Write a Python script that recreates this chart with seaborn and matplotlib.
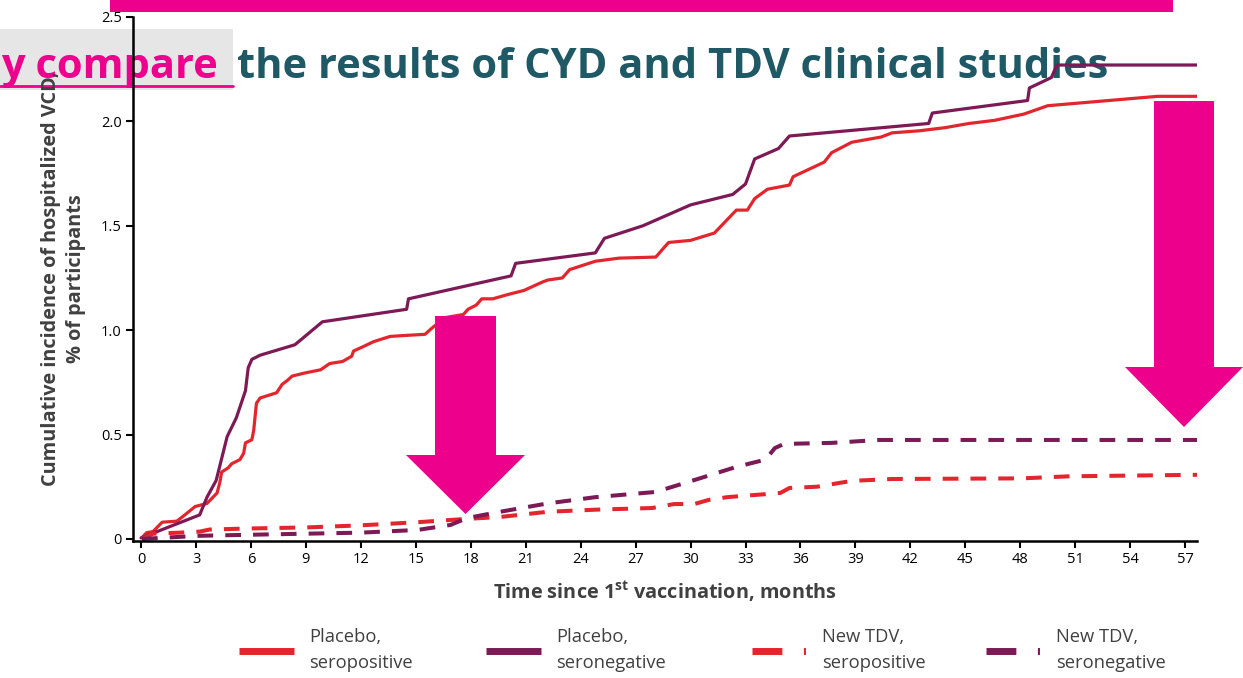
import numpy as np
import pandas as pd
import matplotlib
matplotlib.use("Agg")
import matplotlib.pyplot as plt
import seaborn as sns
from matplotlib.lines import Line2D
from matplotlib.patches import Polygon, Rectangle

# Placebo, seropositive (solid red)
pbo_pos_month = [0.05, 0.3, 0.65, 1.15, 1.95, 2.25, 2.95, 3.6, 4.15, 4.3, 4.4, 4.75, 4.95, 5.4, 5.6,
                 5.7, 6.05, 6.15, 6.3, 6.5, 7.4, 7.7, 8.0, 8.25, 8.95, 9.8, 10.3, 11.0, 11.5, 11.6,
                 12.1, 12.7, 13.6, 14.5, 15.5, 15.95, 16.6, 17.6, 17.85, 18.3, 18.6, 19.2, 20.0,
                 20.9, 21.9, 22.2, 23.0, 23.4, 24.8, 26.1, 28.1, 28.8, 30.0, 31.3, 32.5, 33.1,
                 33.5, 34.2, 35.4, 35.6, 37.3, 37.7, 38.8, 40.4, 41.0, 42.5, 43.9, 45.2, 46.6,
                 48.2, 49.5, 55.5, 57.7]
pbo_pos_value = [0.005, 0.03, 0.035, 0.08, 0.085, 0.105, 0.155, 0.17, 0.22, 0.27, 0.32, 0.34, 0.36,
                 0.38, 0.41, 0.46, 0.475, 0.52, 0.65, 0.675, 0.70, 0.74, 0.76, 0.78, 0.795, 0.81,
                 0.84, 0.85, 0.875, 0.90, 0.92, 0.945, 0.97, 0.975, 0.98, 1.015, 1.06, 1.075, 1.10,
                 1.12, 1.15, 1.15, 1.17, 1.19, 1.23, 1.24, 1.25, 1.29, 1.33, 1.345, 1.35, 1.42,
                 1.43, 1.465, 1.575, 1.575, 1.63, 1.675, 1.695, 1.735, 1.805, 1.85, 1.90, 1.925,
                 1.945, 1.955, 1.97, 1.99, 2.005, 2.035, 2.075, 2.12, 2.12]

# Placebo, seronegative (solid purple)
pbo_neg_month = [0.0, 3.2, 3.6, 4.1, 4.7, 5.2, 5.7, 5.85, 6.05, 6.5, 8.4, 9.9, 14.5, 14.6, 20.2,
                 20.45, 24.8, 25.3, 27.4, 30.0, 32.3, 33.0, 33.5, 34.8, 35.4, 43.0, 43.2, 48.4,
                 48.5, 49.7, 50.0, 57.7]
pbo_neg_value = [0.005, 0.115, 0.20, 0.28, 0.49, 0.58, 0.71, 0.82, 0.86, 0.88, 0.93, 1.04, 1.10,
                 1.15, 1.26, 1.32, 1.37, 1.44, 1.50, 1.60, 1.65, 1.70, 1.82, 1.87, 1.93, 1.99,
                 2.04, 2.10, 2.16, 2.21, 2.27, 2.27]

# New TDV, seropositive (dashed red)
tdv_pos_month = [0.05, 0.65, 2.1, 3.2, 3.75, 5.95, 9.05, 12.0, 15.1, 17.6, 19.6, 22.2, 24.8, 27.9,
                 29.1, 30.2, 31.0, 32.0, 34.9, 35.4, 36.9, 38.8, 41.0, 48.1, 50.7, 57.7]
tdv_pos_value = [0.0, 0.025, 0.03, 0.035, 0.045, 0.05, 0.055, 0.065, 0.08, 0.095, 0.105, 0.13,
                 0.14, 0.148, 0.167, 0.167, 0.187, 0.20, 0.22, 0.244, 0.25, 0.278, 0.287, 0.29,
                 0.30, 0.307]

# New TDV, seronegative (dashed purple)
tdv_neg_month = [0.05, 3.2, 6.0, 12.0, 15.1, 16.9, 17.8, 19.6, 22.2, 24.8, 28.1, 30.5, 32.5, 34.1,
                 34.6, 35.1, 37.7, 40.3, 57.7]
tdv_neg_value = [0.0, 0.015, 0.02, 0.03, 0.043, 0.067, 0.10, 0.13, 0.17, 0.20, 0.225, 0.29, 0.345,
                 0.38, 0.435, 0.455, 0.46, 0.474, 0.474]

series_labels = ["Placebo,\nseropositive", "Placebo,\nseronegative",
                 "New TDV,\nseropositive", "New TDV,\nseronegative"]
x_ticks = list(range(0, 58, 3))
y_ticks = [0, 0.5, 1.0, 1.5, 2.0, 2.5]
y_tick_labels = ["0", "0.5", "1.0", "1.5", "2.0", "2.5"]

RED = "#e3262d"
PURPLE = "#7d1a55"
PINK = "#ec008c"
TEAL = "#1f5966"
GREY_TXT = "#404040"

frames = []
for lab, m, v in zip(series_labels,
                     [pbo_pos_month, pbo_neg_month, tdv_pos_month, tdv_neg_month],
                     [pbo_pos_value, pbo_neg_value, tdv_pos_value, tdv_neg_value]):
    frames.append(pd.DataFrame({"month": m, "incidence": v, "series": lab}))
df = pd.concat(frames, ignore_index=True)

sns.set_style("white")
plt.rcParams["font.family"] = ["Open Sans", "DejaVu Sans"]

W, H = 1243, 678
fig = plt.figure(figsize=(W / 100, H / 100), dpi=100)
ax = fig.add_axes([133 / W, 1 - 541 / H, (1197 - 133) / W, (541 - 17) / H])
ax.patch.set_facecolor("none")

palette = {series_labels[0]: RED, series_labels[1]: PURPLE,
           series_labels[2]: RED, series_labels[3]: PURPLE}
dashes = {series_labels[0]: "", series_labels[1]: "",
          series_labels[2]: (3.9, 3.0), series_labels[3]: (3.9, 3.0)}
sns.lineplot(data=df, x="month", y="incidence", hue="series", style="series",
             palette=palette, dashes=dashes, estimator=None, sort=False,
             linewidth=2.3, legend=False, ax=ax)
for ln in ax.get_lines()[2:]:
    ln.set_linewidth(2.9)
    ln.set_dash_capstyle("butt")

ax.set_xlim(-0.44, 57.65)
ax.set_ylim(-0.01, 2.5)
ax.set_xticks(x_ticks)
ax.set_xticklabels([str(t) for t in x_ticks], fontsize=10.5, color="black")
ax.set_yticks(y_ticks)
ax.set_yticklabels(y_tick_labels, fontsize=10.5, color="black")
for s in ["top", "right"]:
    ax.spines[s].set_visible(False)
for s in ["left", "bottom"]:
    ax.spines[s].set_color("black")
    ax.spines[s].set_linewidth(1.8)
ax.tick_params(axis="both", direction="out", length=5, width=1.5, color="black", pad=3,
               bottom=True, left=True)
ax.set_xlabel("Time since 1$^{\\mathregular{st}}$ vaccination, months", fontsize=14.3,
              fontweight="bold", color=GREY_TXT, labelpad=9)
ax.set_ylabel("Cumulative incidence of hospitalized VCD,\n% of participants", fontsize=14.3,
              fontweight="bold", color=GREY_TXT, labelpad=11, linespacing=1.3)

# legend: one entry per block, placed like the slide
handles = [Line2D([], [], color=RED, lw=5, solid_capstyle="butt"),
           Line2D([], [], color=PURPLE, lw=5, solid_capstyle="butt"),
           Line2D([], [], color=RED, lw=5, dashes=(4.3, 3.1, 0.3, 10), dash_capstyle="butt"),
           Line2D([], [], color=PURPLE, lw=5, dashes=(4.3, 3.1, 0.3, 10), dash_capstyle="butt")]
legend_x = [232, 479, 745, 979]
for h, lab, lx in zip(handles, series_labels, legend_x):
    leg = fig.legend([h], [lab], loc="center left", frameon=False,
                     bbox_to_anchor=(lx / W, 1 - 650 / H), fontsize=13.2, labelcolor=GREY_TXT,
                     handlelength=3.0, handletextpad=0.8, borderaxespad=0, borderpad=0.4)
    for t in leg.get_texts():
        t.set_linespacing(1.55)


def px(x, y):
    return (x / W, 1 - y / H)


def down_arrow(cx, half_shaft, top, head_base, half_head, tip):
    pts = [px(cx - half_shaft, top), px(cx + half_shaft, top), px(cx + half_shaft, head_base),
           px(cx + half_head, head_base), px(cx, tip), px(cx - half_head, head_base),
           px(cx - half_shaft, head_base)]
    fig.add_artist(Polygon(pts, closed=True, transform=fig.transFigure, facecolor=PINK,
                           edgecolor="none", zorder=10))


down_arrow(465.5, 30.5, 316, 455, 59.5, 514)
down_arrow(1184, 30, 101, 367, 59, 427)

# slide overlay: pink bar and title (drawn beneath the chart)
fig.add_artist(Rectangle(px(110, 12), (1173 - 110) / W, 12 / H, transform=fig.transFigure,
                         facecolor=PINK, edgecolor="none", zorder=10))
fig.add_artist(Rectangle(px(0, 90), 233 / W, 61 / H, transform=fig.transFigure,
                         facecolor="#e6e6e6", edgecolor="none", zorder=-3))
fig.add_artist(Line2D([0, 233 / W], [1 - 86 / H, 1 - 86 / H], transform=fig.transFigure,
                      color=PINK, lw=2, zorder=-2))
fig.text(1 / W, 1 - 78 / H, "y compare", fontsize=30, fontweight="bold", color=PINK,
         ha="left", va="baseline", zorder=-2)
fig.text(237 / W, 1 - 78 / H, "the results of CYD and TDV clinical studies", fontsize=30,
         fontweight="bold", color=TEAL, ha="left", va="baseline", zorder=-2)

fig.savefig("out.png", dpi=100, facecolor="white")
